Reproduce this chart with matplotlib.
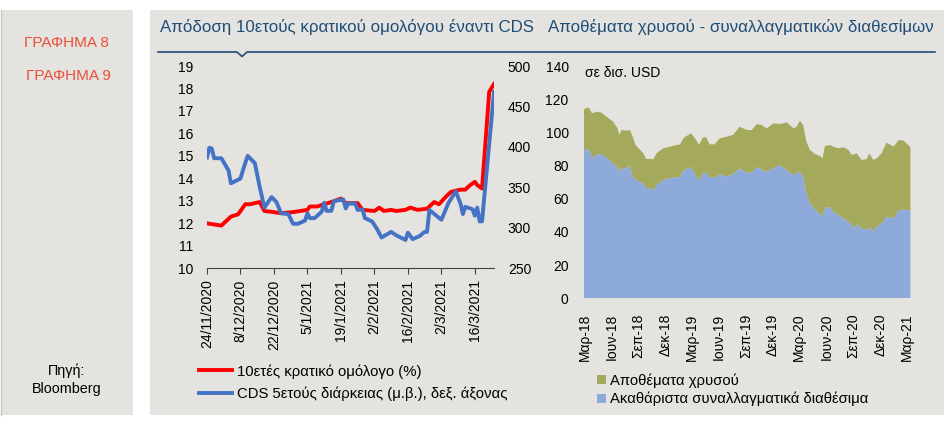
import pandas as pd
import numpy as np
import matplotlib
matplotlib.use('Agg')
from matplotlib import pyplot as plt
from matplotlib.patches import Rectangle
from matplotlib.lines import Line2D

plt.rcParams['font.family'] = ['Liberation Sans', 'DejaVu Sans']
plt.rcParams['font.size'] = 10

# ---- chart 8 : 10y bond yield (%) vs 5y CDS (bp)
bond_dates = ['2020-11-24', '2020-11-30', '2020-12-04', '2020-12-07', '2020-12-10', '2020-12-12',
              '2020-12-16', '2020-12-18', '2020-12-22', '2020-12-25', '2020-12-30', '2021-01-05',
              '2021-01-06', '2021-01-09', '2021-01-15', '2021-01-19', '2021-01-21', '2021-01-26',
              '2021-01-28', '2021-02-02', '2021-02-04', '2021-02-06', '2021-02-09', '2021-02-11',
              '2021-02-15', '2021-02-17', '2021-02-20', '2021-02-24', '2021-02-27', '2021-03-01',
              '2021-03-04', '2021-03-06', '2021-03-10', '2021-03-12', '2021-03-14', '2021-03-16',
              '2021-03-17', '2021-03-19', '2021-03-22', '2021-03-24']
bond_yield = [12.0, 11.9, 12.3, 12.4, 12.85, 12.85, 12.95, 12.55, 12.5, 12.45, 12.5, 12.6,
              12.75, 12.75, 12.95, 13.1, 12.9, 12.9, 12.6, 12.55, 12.7, 12.55, 12.6, 12.55,
              12.6, 12.7, 12.6, 12.65, 12.95, 12.85, 13.2, 13.4, 13.5, 13.5, 13.7, 13.85,
              13.7, 13.55, 17.85, 18.2]

cds_dates = ['2020-11-24', '2020-11-25', '2020-11-26', '2020-11-27', '2020-11-30', '2020-12-03',
             '2020-12-04', '2020-12-08', '2020-12-09', '2020-12-11', '2020-12-14', '2020-12-16',
             '2020-12-18', '2020-12-21', '2020-12-23', '2020-12-25', '2020-12-28', '2020-12-30',
             '2021-01-01', '2021-01-04', '2021-01-05', '2021-01-06', '2021-01-08', '2021-01-11',
             '2021-01-12', '2021-01-13', '2021-01-15', '2021-01-16', '2021-01-18', '2021-01-20',
             '2021-01-21', '2021-01-22', '2021-01-25', '2021-01-26', '2021-01-28', '2021-01-29',
             '2021-02-01', '2021-02-03', '2021-02-05', '2021-02-09', '2021-02-11', '2021-02-15',
             '2021-02-16', '2021-02-18', '2021-02-21', '2021-02-23', '2021-02-24', '2021-02-25',
             '2021-03-02', '2021-03-05', '2021-03-08', '2021-03-10', '2021-03-11', '2021-03-12',
             '2021-03-15', '2021-03-16', '2021-03-17', '2021-03-18', '2021-03-19', '2021-03-24']
cds_bp = [387, 399, 398, 386, 386, 371, 355, 361, 371, 389, 380, 351,
          325, 338, 332, 318, 317, 305, 305, 309, 318, 312, 312, 320,
          331, 321, 321, 333, 334, 335, 324, 330, 330, 322, 323, 312,
          308, 299, 288, 295, 291, 285, 294, 286, 290, 295, 295, 322,
          310, 331, 345, 330, 317, 326, 323, 315, 325, 308, 308, 468]

bond_ticks = ['2020-11-24', '2020-12-08', '2020-12-22', '2021-01-05', '2021-01-19',
              '2021-02-02', '2021-02-16', '2021-03-02', '2021-03-16']
bond_tick_labels = ['24/11/2020', '8/12/2020', '22/12/2020', '5/1/2021', '19/1/2021',
                    '2/2/2021', '16/2/2021', '2/3/2021', '16/3/2021']

# ---- chart 9 : gold and fx reserves, bn USD
res_dates = ['2018-02-27', '2018-03-10', '2018-03-17', '2018-03-26', '2018-04-04', '2018-04-12',
             '2018-04-27', '2018-05-14', '2018-06-06', '2018-06-20', '2018-06-28', '2018-07-04',
             '2018-07-21', '2018-08-02', '2018-08-11', '2018-08-21', '2018-09-06', '2018-09-17',
             '2018-09-26', '2018-10-09', '2018-10-21', '2018-11-01', '2018-11-24', '2018-12-16',
             '2019-01-20', '2019-02-03', '2019-02-27', '2019-03-16', '2019-03-25', '2019-04-08',
             '2019-04-19', '2019-04-30', '2019-05-18', '2019-06-04', '2019-06-27', '2019-07-19',
             '2019-08-11', '2019-09-04', '2019-09-21', '2019-10-08', '2019-10-25', '2019-11-11',
             '2019-12-03', '2019-12-26', '2020-01-18', '2020-02-10', '2020-02-21', '2020-03-03',
             '2020-03-14', '2020-03-25', '2020-04-06', '2020-04-23', '2020-05-10', '2020-05-19',
             '2020-05-27', '2020-06-13', '2020-06-24', '2020-07-11', '2020-07-29', '2020-08-15',
             '2020-08-26', '2020-09-01', '2020-09-12', '2020-09-29', '2020-10-16', '2020-10-25',
             '2020-11-08', '2020-11-20', '2020-12-06', '2020-12-23', '2021-01-16', '2021-02-02',
             '2021-02-19', '2021-02-28', '2021-03-06', '2021-03-14']
res_fx = [89.4, 90.0, 89.4, 84.4, 85.8, 87.0, 86.5, 85.0, 81.3, 79.0, 76.3, 78.3,
          78.3, 80.3, 73.3, 71.5, 70.3, 69.3, 66.5, 66.3, 65.3, 68.3, 71.3, 72.3,
          73.3, 77.3, 79.0, 73.3, 70.9, 75.7, 75.7, 73.3, 72.7, 74.9, 73.3, 74.9,
          78.3, 75.7, 75.7, 79.0, 77.7, 76.3, 78.3, 80.3, 77.3, 74.3, 75.3, 76.3,
          73.3, 63.3, 57.2, 53.6, 50.8, 49.2, 54.8, 54.8, 52.2, 50.2, 48.2, 46.2,
          44.2, 41.8, 44.8, 42.2, 41.2, 43.2, 40.2, 43.2, 45.2, 49.2, 48.2, 52.8,
          53.6, 53.2, 53.6, 52.2]
res_gold = [24.5, 25.0, 25.1, 27.1, 26.2, 25.5, 25.5, 24.5, 25.2, 23.8, 22.1, 23.1,
            22.7, 21.1, 24.5, 20.9, 19.1, 18.1, 17.5, 17.7, 18.5, 19.1, 19.1, 19.1,
            19.5, 19.7, 20.4, 22.1, 21.5, 21.3, 21.3, 19.5, 20.1, 21.5, 24.1, 23.5,
            25.1, 25.7, 25.7, 26.0, 26.7, 26.1, 27.1, 24.7, 28.7, 28.1, 28.1, 30.7,
            31.1, 31.1, 32.2, 33.4, 35.0, 35.2, 37.0, 37.6, 39.2, 40.2, 42.8, 43.2,
            42.2, 44.8, 42.6, 41.2, 42.6, 44.2, 43.2, 41.2, 42.2, 44.6, 43.2, 42.6,
            41.4, 40.2, 38.8, 38.8]

res_ticks = pd.date_range('2018-03-01', '2021-03-01', freq='3MS')
res_tick_labels = ['Μαρ-18', 'Ιουν-18', 'Σεπ-18', 'Δεκ-18', 'Μαρ-19', 'Ιουν-19', 'Σεπ-19',
                   'Δεκ-19', 'Μαρ-20', 'Ιουν-20', 'Σεπ-20', 'Δεκ-20', 'Μαρ-21']

W, H = 944, 423
panel = '#E4E3DF'
navy = '#1F4E79'

fig = plt.figure(figsize=(W / 100, H / 100), dpi=100)
fig.patch.set_facecolor('white')


def px(x, y):
    return x / W, 1 - y / H


# gray panels
fig.add_artist(Rectangle(px(1, 415), 132 / W, 405 / H, transform=fig.transFigure,
                         facecolor=panel, edgecolor='none', zorder=0))
fig.add_artist(Rectangle(px(150, 415), 794 / W, 405 / H, transform=fig.transFigure,
                         facecolor=panel, edgecolor='none', zorder=0))
fig.add_artist(Line2D([0.5 / W, 0.5 / W], [1 - 10 / H, 1 - 415 / H], transform=fig.transFigure,
                      color='#C8C8C8', lw=1))

# side texts
fig.text(*px(66, 43), 'ΓΡΑΦΗΜΑ 8', color='#E8503A', fontsize=11, ha='center', va='center')
fig.text(*px(68, 76), 'ΓΡΑΦΗΜΑ 9', color='#E8503A', fontsize=11, ha='center', va='center')
fig.text(*px(67, 371), 'Πηγή:', fontsize=10.4, ha='center', va='center')
fig.text(*px(67, 389), 'Bloomberg', fontsize=10.4, ha='center', va='center')

# titles and header rule
fig.text(*px(160, 27), 'Απόδοση 10ετούς κρατικού ομολόγου έναντι CDS', color=navy,
         fontsize=12.2, ha='left', va='center')
fig.text(*px(548, 27), 'Αποθέματα χρυσού - συναλλαγματικών διαθεσίμων', color=navy,
         fontsize=12.2, ha='left', va='center')
hx = [158, 237, 242, 247, 935]
hy = [52, 52, 56.5, 52, 52]
fig.add_artist(Line2D([x / W for x in hx], [1 - y / H for y in hy], transform=fig.transFigure,
                      color=navy, lw=1.2))

# ---- left chart
ax = fig.add_axes([207 / W, 1 - 268.3 / H, 287 / W, 202.3 / H])
ax.set_facecolor('none')
ax2 = ax.twinx()
ax2.set_facecolor('none')

l1, = ax.plot(pd.to_datetime(bond_dates), bond_yield, color='#FF0000', lw=2.8,
              label='10ετές κρατικό ομόλογο (%)')
l2, = ax2.plot(pd.to_datetime(cds_dates), cds_bp, color='#4472C4', lw=2.8,
               label='CDS 5ετούς διάρκειας (μ.β.), δεξ. άξονας')

ax.set_xlim(pd.Timestamp('2020-11-24'), pd.Timestamp('2021-03-24'))
ax.set_ylim(10, 19)
ax.set_yticks(range(10, 20))
ax2.set_ylim(250, 500)
ax2.set_yticks(range(250, 501, 50))
ax.set_xticks(pd.to_datetime(bond_ticks))
ax.set_xticklabels(bond_tick_labels, rotation=90)

for a in (ax, ax2):
    for s in ('top', 'left', 'right'):
        a.spines[s].set_visible(False)
ax2.spines['bottom'].set_visible(False)
ax.spines['bottom'].set_color('#404040')
ax.tick_params(axis='x', length=4, color='#404040', pad=4, labelsize=10)
ax.tick_params(axis='y', length=0, pad=10, labelsize=10)
ax2.tick_params(axis='y', length=0, pad=10, labelsize=10)

fig.legend(handles=[l1, l2], loc='upper left', bbox_to_anchor=px(199, 364),
           frameon=False, borderpad=0, borderaxespad=0, handlelength=2.25,
           handletextpad=0.3, labelspacing=0.55, fontsize=10.7)

# ---- right chart
bx = fig.add_axes([584 / W, 1 - 298.3 / H, 326.7 / W, 232.3 / H])
bx.set_facecolor('none')
rd = pd.to_datetime(res_dates)
bx.stackplot(rd, res_fx, res_gold, colors=['#8EAADB', '#A4A95C'],
             labels=['Ακαθάριστα συναλλαγματικά διαθέσιμα', 'Αποθέματα χρυσού'])
bx.set_xlim(pd.Timestamp('2018-02-27'), pd.Timestamp('2021-03-15'))
bx.set_ylim(0, 140)
bx.set_yticks(range(0, 141, 20))
bx.set_xticks(res_ticks)
bx.set_xticklabels(res_tick_labels, rotation=90)
for s in bx.spines.values():
    s.set_visible(False)
bx.tick_params(axis='x', length=0, pad=11, labelsize=10)
bx.tick_params(axis='y', length=0, pad=11, labelsize=10)
bx.text(0.003, 0.97, 'σε δισ. USD', transform=bx.transAxes, fontsize=10, va='center', ha='left')

h, lab = bx.get_legend_handles_labels()
fig.legend(h[::-1], lab[::-1], loc='upper left', bbox_to_anchor=px(597, 373),
           frameon=False, borderpad=0, borderaxespad=0, handlelength=0.6, handleheight=0.6,
           handletextpad=0.3, labelspacing=0.3, fontsize=10.7)

plt.savefig('out.png', dpi=100)
